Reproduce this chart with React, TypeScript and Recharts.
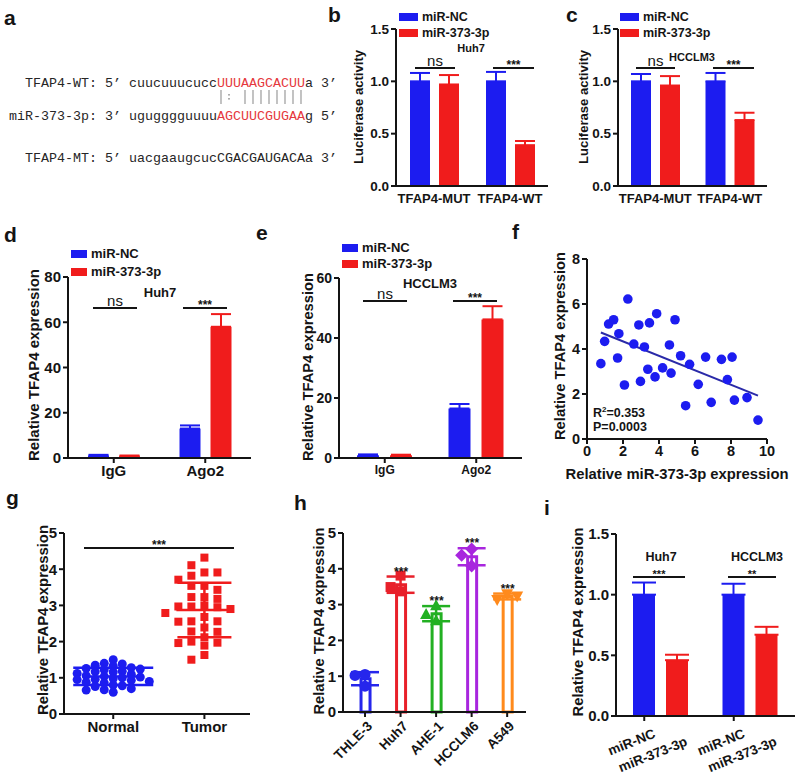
import React from "react"
import {
  BarChart,
  Bar,
  XAxis,
  YAxis,
  ErrorBar,
  ScatterChart,
  Scatter,
  ComposedChart,
  ReferenceLine,
  LabelList,
  Cell,
} from "recharts"

// ---- data ----
const lucGroups = ["TFAP4-MUT", "TFAP4-WT"]
const lucHuh7NC = [1.0, 1.0]
const lucHuh7NCSd = [0.08, 0.09]
const lucHuh7Mir = [0.97, 0.39]
const lucHuh7MirSd = [0.09, 0.04]
const lucLm3NC = [1.0, 1.0]
const lucLm3NCSd = [0.07, 0.08]
const lucLm3Mir = [0.96, 0.63]
const lucLm3MirSd = [0.09, 0.07]

const ripGroups = ["IgG", "Ago2"]
const ripHuh7NC = [1.0, 13.0]
const ripHuh7NCSd = [0.4, 1.4]
const ripHuh7Mir = [0.8, 58.0]
const ripHuh7MirSd = [0.3, 5.6]
const ripLm3NC = [0.9, 16.5]
const ripLm3NCSd = [0.3, 1.5]
const ripLm3Mir = [0.9, 46.2]
const ripLm3MirSd = [0.2, 4.4]

const corrMir = [
  0.77, 0.98, 1.2, 1.48, 1.7, 1.77, 2.08, 2.27, 2.6, 2.88, 2.97, 3.19, 3.38, 3.47, 3.78, 3.87,
  4.2, 4.58, 4.67, 4.89, 5.2, 5.48, 5.7, 6.18, 6.59, 6.9, 7.47, 7.8, 8.06, 8.19, 8.89, 9.5,
]
const corrTfap4 = [
  3.35, 4.34, 5.11, 5.3, 3.6, 4.68, 2.4, 6.22, 4.22, 5.07, 2.56, 4.09, 3.1, 5.16, 2.76, 5.57,
  3.16, 4.18, 2.93, 5.3, 3.7, 1.48, 3.32, 2.43, 3.64, 1.63, 3.54, 2.64, 3.64, 1.73, 1.84, 0.84,
]

const tissueNames = ["Normal", "Tumor"]
const normalTfap4 = [
  1.5, 1.4, 1.38, 1.35, 1.33, 1.28, 1.26, 1.24, 1.22, 1.18, 1.17, 1.16, 1.12, 1.1, 1.06, 1.04,
  1.02, 1.0, 0.98, 0.96, 0.95, 0.93, 0.9, 0.88, 0.86, 0.8, 0.78, 0.76, 0.7, 0.67, 0.66, 0.6,
]
const tumorTfap4 = [
  4.32, 4.11, 3.91, 3.91, 3.82, 3.71, 3.54, 3.54, 3.43, 3.23, 3.23, 3.18, 3.0, 2.97, 2.97, 2.95,
  2.9, 2.79, 2.68, 2.56, 2.56, 2.55, 2.39, 2.28, 2.27, 2.12, 2.0, 1.97, 1.96, 1.89, 1.63, 1.5,
]

const cellLines = ["THLE-3", "Huh7", "AHE-1", "HCCLM6", "A549"]
const cellReps = [
  [1.05, 1.02, 0.72],
  [3.81, 3.37, 3.49],
  [2.97, 2.55, 2.72],
  [4.55, 4.08, 4.38],
  [3.3, 3.14, 3.24],
]
const cellStars = ["", "***", "***", "***", "***"]

const rescueGroups = ["Huh7", "HCCLM3"]
const rescueNC = [1.0, 1.0]
const rescueNCSd = [0.1, 0.09]
const rescueMir = [0.46, 0.67]
const rescueMirSd = [0.045, 0.065]

// base pairing between the WT site and the miRNA, one symbol per seed position
const seedPairing = "|: ||||||||"

// ---- look ----
const FONT = "'Liberation Sans', Arial, Helvetica, sans-serif"
const MONO = "'Liberation Mono', 'DejaVu Sans Mono', monospace"
const BLUE = "#1c1cf0"
const RED = "#f01c1c"
const INK = "#141414"
const SEQ_RED = "#e5383d"
const CELL_COLORS = ["#2626ec", "#e8202a", "#22b022", "#a826de", "#ff8a1c"]
const SEQ_CELL = 8 // px per character in the sequence block

const axisLine = { stroke: INK, strokeWidth: 2 }
const tickLine = { stroke: INK, strokeWidth: 2 }
const tickFont = (size: number) => ({ fill: INK, fontSize: size, fontWeight: 700, fontFamily: FONT })

const avg = (a: number[]) => a.reduce((s, v) => s + v, 0) / a.length
const sdev = (a: number[]) => {
  const m = avg(a)
  return Math.sqrt(a.reduce((s, v) => s + (v - m) ** 2, 0) / (a.length - 1))
}

// spread points sideways so they don't sit on top of each other (prism-style column scatter)
function swarm(values: number[], pxPerY: number, pxPerX: number, stepPx: number, gapPx: number) {
  const placed: { y: number; slot: number }[] = []
  return values.map((v) => {
    const y = v * pxPerY
    for (let k = 0; k < 60; k++) {
      const slot = k === 0 ? 0 : k % 2 ? -Math.ceil(k / 2) : k / 2
      if (!placed.some((p) => p.slot === slot && Math.abs(p.y - y) < gapPx)) {
        placed.push({ y, slot })
        return (slot * stepPx) / pxPerX
      }
    }
    return 0
  })
}

// ---- b / c ----
function LucPanel({ left, width, yWidth, nc, ncSd, mir, mirSd }: any) {
  const data = lucGroups.map((g, i) => ({
    group: g,
    nc: nc[i],
    ncErr: [0, ncSd[i]],
    mir: mir[i],
    mirErr: [0, mirSd[i]],
  }))
  return (
    <div style={{ position: "absolute", left, top: 0 }}>
      <BarChart width={width} height={216} data={data} margin={{ top: 29, right: 8, bottom: 0, left: 0 }} barSize={20} barGap={9}>
        <XAxis dataKey="group" height={30} axisLine={axisLine} tickLine={false} tick={tickFont(13)} interval={0} />
        <YAxis
          width={yWidth}
          domain={[0, 1.5]}
          ticks={[0, 0.5, 1, 1.5]}
          tickFormatter={(v: number) => v.toFixed(1)}
          axisLine={axisLine}
          tickLine={tickLine}
          tickSize={5}
          tick={tickFont(13.5)}
        />
        <Bar dataKey="nc" fill={BLUE} isAnimationActive={false}>
          <ErrorBar dataKey="ncErr" width={10} stroke={BLUE} strokeWidth={2} direction="y" />
        </Bar>
        <Bar dataKey="mir" fill={RED} isAnimationActive={false}>
          <ErrorBar dataKey="mirErr" width={10} stroke={RED} strokeWidth={2} direction="y" />
        </Bar>
      </BarChart>
    </div>
  )
}

// ---- d / e ----
function RipPanel({ left, top, width, marginTop, right, yWidth, yMax, ticks, catSize, valSize, barSize, barGap, nc, ncSd, mir, mirSd }: any) {
  const data = ripGroups.map((g, i) => ({
    group: g,
    nc: nc[i],
    ncErr: [0, ncSd[i]],
    mir: mir[i],
    mirErr: [0, mirSd[i]],
  }))
  return (
    <div style={{ position: "absolute", left, top }}>
      <BarChart width={width} height={240} data={data} margin={{ top: marginTop, right, bottom: 0, left: 0 }} barSize={barSize} barGap={barGap}>
        <XAxis dataKey="group" height={32} axisLine={axisLine} tickLine={tickLine} tickSize={5} tick={tickFont(catSize)} interval={0} />
        <YAxis width={yWidth} domain={[0, yMax]} ticks={ticks} axisLine={axisLine} tickLine={tickLine} tickSize={5} tick={tickFont(valSize)} />
        <Bar dataKey="nc" fill={BLUE} isAnimationActive={false}>
          <ErrorBar dataKey="ncErr" width={10} stroke={BLUE} strokeWidth={2} direction="y" />
        </Bar>
        <Bar dataKey="mir" fill={RED} isAnimationActive={false}>
          <ErrorBar dataKey="mirErr" width={10} stroke={RED} strokeWidth={2} direction="y" />
        </Bar>
      </BarChart>
    </div>
  )
}

// ---- f ----
const corrData = corrMir.map((x, i) => ({ x, y: corrTfap4[i] }))
const fitLine = (() => {
  const mx = avg(corrMir)
  const my = avg(corrTfap4)
  let sxy = 0
  let sxx = 0
  corrMir.forEach((x, i) => {
    sxy += (x - mx) * (corrTfap4[i] - my)
    sxx += (x - mx) ** 2
  })
  const slope = sxy / sxx
  const x0 = Math.min(...corrMir)
  const x1 = Math.max(...corrMir)
  return [
    { x: x0, y: my + slope * (x0 - mx) },
    { x: x1, y: my + slope * (x1 - mx) },
  ]
})()

function CorrPanel() {
  return (
    <div style={{ position: "absolute", left: 530, top: 240 }}>
      <ScatterChart width={270} height={240} margin={{ top: 19, right: 33, bottom: 0, left: 0 }}>
        <XAxis type="number" dataKey="x" domain={[0, 10]} ticks={[0, 2, 4, 6, 8, 10]} height={41} axisLine={axisLine} tickLine={tickLine} tickSize={5} tick={tickFont(14.5)} />
        <YAxis type="number" dataKey="y" domain={[0, 8]} ticks={[0, 2, 4, 6, 8]} width={57} axisLine={axisLine} tickLine={tickLine} tickSize={5} tick={tickFont(14.5)} />
        <ReferenceLine segment={fitLine} stroke="#2a2aa8" strokeWidth={2} ifOverflow="visible" />
        <Scatter
          data={corrData}
          isAnimationActive={false}
          shape={(p: any) => <circle cx={p.cx} cy={p.cy} r={4.8} fill={BLUE} />}
        />
      </ScatterChart>
    </div>
  )
}

// ---- g ----
const G_PX_Y = 181 / 5
const G_PX_X = 91
const normalSpread = swarm(normalTfap4, G_PX_Y, G_PX_X, 9, 6)
const tumorSpread = swarm(tumorTfap4, G_PX_Y, G_PX_X, 13, 8)
const normalPts = normalTfap4.map((y, i) => ({ x: 1 + normalSpread[i], y }))
const tumorPts = tumorTfap4.map((y, i) => ({ x: 2 + tumorSpread[i], y }))
const normalSummary = [{ x: 1, y: avg(normalTfap4), sd: sdev(normalTfap4) }]
const tumorSummary = [{ x: 2, y: avg(tumorTfap4), sd: sdev(tumorTfap4) }]

const meanBar = (half: number, color: string) => (p: any) =>
  <line x1={p.cx - half} x2={p.cx + half} y1={p.cy} y2={p.cy} stroke={color} strokeWidth={2.5} />

function TissuePanel() {
  return (
    <div style={{ position: "absolute", left: 0, top: 510 }}>
      <ScatterChart width={260} height={250} margin={{ top: 23, right: 10, bottom: 0, left: 0 }}>
        <XAxis
          type="number"
          dataKey="x"
          domain={[0.46, 2.5]}
          ticks={[1, 2]}
          tickFormatter={(v: number) => tissueNames[v - 1]}
          height={46}
          axisLine={axisLine}
          tickLine={tickLine}
          tickSize={5}
          tick={tickFont(15)}
        />
        <YAxis type="number" dataKey="y" domain={[0, 5]} ticks={[0, 1, 2, 3, 4, 5]} width={64} axisLine={axisLine} tickLine={tickLine} tickSize={5} tick={tickFont(15)} />
        <Scatter data={normalPts} isAnimationActive={false} shape={(p: any) => <circle cx={p.cx} cy={p.cy} r={4.5} fill={BLUE} />} />
        <Scatter
          data={tumorPts}
          isAnimationActive={false}
          shape={(p: any) => <rect x={p.cx - 4} y={p.cy - 4} width={8} height={8} fill={RED} />}
        />
        <Scatter data={normalSummary} isAnimationActive={false} shape={meanBar(27, BLUE)}>
          <ErrorBar dataKey="sd" direction="y" width={40} stroke={BLUE} strokeWidth={2.5} />
        </Scatter>
        <Scatter data={tumorSummary} isAnimationActive={false} shape={meanBar(28, RED)}>
          <ErrorBar dataKey="sd" direction="y" width={27} stroke={RED} strokeWidth={2.5} />
        </Scatter>
      </ScatterChart>
    </div>
  )
}

// ---- h ----
const H_PX_Y = 179 / 5
const H_PX_X = 35.5
const cellData = cellLines.map((name, i) => ({
  x: i,
  name,
  mean: avg(cellReps[i]),
  sd: sdev(cellReps[i]),
  star: cellStars[i],
}))
const cellPts = cellReps.map((reps, i) => {
  const off = swarm(reps, H_PX_Y, H_PX_X, 10, 9)
  return reps.map((y, k) => ({ x: i + off[k], y }))
})

const cellMarker = (i: number) => (p: any) => {
  const { cx, cy } = p
  const c = CELL_COLORS[i]
  if (i === 0) return <circle cx={cx} cy={cy} r={5.5} fill={c} />
  if (i === 1) return <rect x={cx - 5} y={cy - 5} width={10} height={10} fill={c} />
  if (i === 2) return <polygon points={`${cx},${cy - 6.5} ${cx - 6},${cy + 4.5} ${cx + 6},${cy + 4.5}`} fill={c} />
  if (i === 3) return <polygon points={`${cx},${cy - 6.5} ${cx + 6.5},${cy} ${cx},${cy + 6.5} ${cx - 6.5},${cy}`} fill={c} />
  return <polygon points={`${cx - 6},${cy - 4.5} ${cx + 6},${cy - 4.5} ${cx},${cy + 6.5}`} fill={c} />
}

const renderCellStar = (p: any) => {
  const row = cellData[p.index] ?? cellData.find((r) => r.mean === p.value)
  if (!row || !row.star) return null
  const px = p.height / row.mean
  return (
    <text x={p.x + p.width / 2} y={p.y - row.sd * px - 1} textAnchor="middle" fontSize={12} fontWeight={700} fill={INK} fontFamily={FONT}>
      {row.star}
    </text>
  )
}

function CellTick({ x, y, payload }: any) {
  const ax = x + 8
  const ay = y + 8
  return (
    <text x={ax} y={ay} transform={`rotate(-45 ${ax} ${ay})`} textAnchor="end" fontSize={13.5} fontWeight={700} fill={INK} fontFamily={FONT}>
      {cellLines[payload.value]}
    </text>
  )
}

function CellPanel() {
  return (
    <div style={{ position: "absolute", left: 270, top: 510 }}>
      <ComposedChart width={260} height={265} data={cellData} margin={{ top: 23, right: 4, bottom: 0, left: 0 }}>
        <XAxis
          type="number"
          dataKey="x"
          domain={[-0.62, 4.53]}
          ticks={[0, 1, 2, 3, 4]}
          interval={0}
          height={63}
          axisLine={axisLine}
          tickLine={tickLine}
          tickSize={5}
          tick={<CellTick />}
        />
        <YAxis type="number" domain={[0, 5]} ticks={[0, 1, 2, 3, 4, 5]} width={73} axisLine={axisLine} tickLine={tickLine} tickSize={5} tick={tickFont(15)} />
        <Bar dataKey="mean" barSize={20} isAnimationActive={false}>
          {cellData.map((r, i) => (
            <Cell key={r.name} fill="#fff" stroke={CELL_COLORS[i]} strokeWidth={3} />
          ))}
          <LabelList dataKey="mean" content={renderCellStar} />
        </Bar>
        {cellData.map((r, i) => (
          <Scatter key={"sd" + r.name} data={[{ x: r.x, y: r.mean, sd: r.sd }]} dataKey="y" isAnimationActive={false} shape={() => <g />}>
            <ErrorBar dataKey="sd" direction="y" width={14} stroke={CELL_COLORS[i]} strokeWidth={2.5} />
          </Scatter>
        ))}
        {cellPts.map((pts, i) => (
          <Scatter key={"pts" + i} data={pts} dataKey="y" isAnimationActive={false} shape={cellMarker(i)} />
        ))}
      </ComposedChart>
    </div>
  )
}

// ---- i ----
function RescueTick({ x, y }: any) {
  const nc = x - 16.5
  const mr = x + 16.5
  const style = { fontSize: 13.5, fontWeight: 700, fill: INK, fontFamily: FONT }
  return (
    <g>
      <line x1={nc} x2={nc} y1={y - 7} y2={y - 2} stroke={INK} strokeWidth={2} />
      <text x={nc + 12} y={y + 14} transform={`rotate(-22 ${nc + 12} ${y + 14})`} textAnchor="end" {...style}>
        miR-NC
      </text>
      <text x={mr + 11} y={y + 22} transform={`rotate(-22 ${mr + 11} ${y + 22})`} textAnchor="end" {...style}>
        miR-373-3p
      </text>
    </g>
  )
}

function RescuePanel() {
  const data = rescueGroups.map((g, i) => ({
    group: g,
    nc: rescueNC[i],
    ncErr: [0, rescueNCSd[i]],
    mir: rescueMir[i],
    mirErr: [0, rescueMirSd[i]],
  }))
  return (
    <div style={{ position: "absolute", left: 540, top: 510 }}>
      <BarChart width={260} height={265} data={data} margin={{ top: 24, right: 5, bottom: 0, left: 0 }} barSize={22} barGap={11}>
        <XAxis dataKey="group" height={59} axisLine={axisLine} tickLine={false} tickSize={5} tick={<RescueTick />} interval={0} />
        <YAxis
          width={76}
          domain={[0, 1.5]}
          ticks={[0, 0.5, 1, 1.5]}
          tickFormatter={(v: number) => v.toFixed(1)}
          axisLine={axisLine}
          tickLine={tickLine}
          tickSize={5}
          tick={tickFont(15)}
        />
        <Bar dataKey="nc" fill={BLUE} isAnimationActive={false}>
          <ErrorBar dataKey="ncErr" width={12} stroke={BLUE} strokeWidth={2} direction="y" />
        </Bar>
        <Bar dataKey="mir" fill={RED} isAnimationActive={false}>
          <ErrorBar dataKey="mirErr" width={12} stroke={RED} strokeWidth={2} direction="y" />
        </Bar>
      </BarChart>
    </div>
  )
}

// ---- text, legends and brackets on top ----
function VTitle({ x, y, size = 15, len, children }: any) {
  return (
    <text
      transform={`translate(${x},${y}) rotate(-90)`}
      textAnchor="middle"
      dominantBaseline="central"
      fontSize={size}
      fontWeight={700}
      fill={INK}
      textLength={len}
      lengthAdjust="spacingAndGlyphs"
    >
      {children}
    </text>
  )
}

function Bracket({ x1, x2, y, label, ns, size = 12 }: any) {
  const cx = (x1 + x2) / 2
  return (
    <g>
      <line x1={x1} x2={x2} y1={y} y2={y} stroke={INK} strokeWidth={2.2} />
      {ns ? (
        <text x={cx} y={y - 2} textAnchor="middle" fontSize={15} fill={INK}>
          ns
        </text>
      ) : (
        <text x={cx} y={y + 1} textAnchor="middle" fontSize={size} fontWeight={700} fill={INK}>
          {label}
        </text>
      )}
    </g>
  )
}

function Legend2({ x, y, w, h, gap, size }: any) {
  return (
    <g fontSize={size} fontWeight={700} fill={INK}>
      <rect x={x} y={y} width={w} height={h} fill={BLUE} />
      <text x={x + w + 4} y={y + h}>miR-NC</text>
      <rect x={x} y={y + gap} width={w} height={h} fill={RED} />
      <text x={x + w + 4} y={y + gap + h}>miR-373-3p</text>
    </g>
  )
}

// one line of the alignment on an 8px-per-character grid
function SeqLine({ x, y, parts }: any) {
  return (
    <text x={x} y={y} fill="#262626" style={{ whiteSpace: "pre" }}>
      {parts.map((p: any, i: number) => (
        <tspan key={i} fill={p.c}>
          {p.t}
        </tspan>
      ))}
    </text>
  )
}

// pairing marks drawn as strokes under each seed position
function PairMarks({ x, top, bottom }: any) {
  return (
    <g stroke="#9a9a9a" strokeWidth={1.2}>
      {seedPairing.split("").map((ch, i) => {
        const cx = x + i * SEQ_CELL + SEQ_CELL / 2
        if (ch === "|") return <line key={i} x1={cx} x2={cx} y1={top} y2={bottom} />
        if (ch === ":")
          return (
            <g key={i} fill="#9a9a9a" stroke="none">
              <rect x={cx - 0.8} y={top + 4} width={1.6} height={1.6} />
              <rect x={cx - 0.8} y={bottom - 6} width={1.6} height={1.6} />
            </g>
          )
        return null
      })}
    </g>
  )
}

function Overlay() {
  return (
    <svg width={800} height={775} style={{ position: "absolute", left: 0, top: 0, pointerEvents: "none" }} fontFamily={FONT}>
      <g fontSize={21} fontWeight={700} fill={INK}>
        <text x={4} y={25}>a</text>
        <text x={328} y={22}>b</text>
        <text x={566} y={22}>c</text>
        <text x={4} y={242}>d</text>
        <text x={256} y={240}>e</text>
        <text x={512} y={239}>f</text>
        <text x={6} y={505}>g</text>
        <text x={294} y={510}>h</text>
        <text x={544} y={515}>i</text>
      </g>

      <g fontFamily={MONO} fontSize={13.33}>
        <SeqLine x={25} y={87} parts={[{ t: "TFAP4-WT: 5’ cuucuuucucc" }, { t: "UUUAAGCACUU", c: SEQ_RED }, { t: "a 3’" }]} />
        <SeqLine x={9} y={120} parts={[{ t: "miR-373-3p: 3’ ugugggguuuu" }, { t: "AGCUUCGUGAA", c: SEQ_RED }, { t: "g 5’" }]} />
        <SeqLine x={25} y={162} parts={[{ t: "TFAP4-MT: 5’ uacgaaugcucCGACGAUGACAa 3’" }]} />
      </g>
      <PairMarks x={25 + 24 * SEQ_CELL} top={90} bottom={104} />

      <Legend2 x={399} y={13} w={19} h={8} gap={16} size={12.5} />
      <Legend2 x={620} y={13} w={19} h={8} gap={16} size={12.5} />
      <Legend2 x={71} y={250} w={16} h={8} gap={18} size={13} />
      <Legend2 x={342} y={244} w={16} h={8} gap={16} size={13} />

      <VTitle x={358} y={107} size={13.5} len={114}>Luciferase activity</VTitle>
      <VTitle x={583} y={107} size={13.5} len={114}>Luciferase activity</VTitle>
      <VTitle x={33} y={365} len={192}>Relative TFAP4 expression</VTitle>
      <VTitle x={307} y={367} len={188}>Relative TFAP4 expression</VTitle>
      <VTitle x={559} y={346} len={188}>Relative TFAP4 expression</VTitle>
      <VTitle x={42} y={620} len={190}>Relative TFAP4 expression</VTitle>
      <VTitle x={318} y={621} len={187}>Relative TFAP4 expression</VTitle>
      <VTitle x={577} y={622} len={189}>Relative TFAP4 expression</VTitle>
      <text x={677} y={479} textAnchor="middle" fontSize={15} fontWeight={700} fill={INK} textLength={223} lengthAdjust="spacingAndGlyphs">
        Relative miR-373-3p expression
      </text>

      <g fontWeight={700} fill={INK} textAnchor="middle">
        <text x={471} y={52} fontSize={11}>Huh7</text>
        <text x={692} y={61} fontSize={11}>HCCLM3</text>
        <text x={160} y={297} fontSize={13}>Huh7</text>
        <text x={430} y={288} fontSize={13}>HCCLM3</text>
        <text x={661} y={561} fontSize={12.5}>Huh7</text>
        <text x={757} y={561} fontSize={12.5}>HCCLM3</text>
      </g>

      <Bracket x1={415} x2={455} y={68} ns />
      <Bracket x1={493} x2={534} y={68} label="***" />
      <Bracket x1={636} x2={675} y={68} ns />
      <Bracket x1={713} x2={754} y={68} label="***" />
      <Bracket x1={93} x2={137} y={308} ns />
      <Bracket x1={183} x2={227} y={308} label="***" />
      <Bracket x1={363} x2={407} y={301} ns />
      <Bracket x1={453} x2={497} y={301} label="***" />
      <Bracket x1={84} x2={234} y={548} label="***" />
      <Bracket x1={633} x2={685} y={577} label="***" size={11} />
      <Bracket x1={728} x2={776} y={577} label="**" size={11} />

      <g fontSize={12.5} fontWeight={700} fill={INK}>
        <text x={593} y={417}>
          R<tspan dy={-5} fontSize={8}>2</tspan>
          <tspan dy={5}>=0.353</tspan>
        </text>
        <text x={593} y={431}>P=0.0003</text>
      </g>
    </svg>
  )
}

export default function App() {
  return (
    <div style={{ position: "absolute", left: 0, top: 0, width: 800, height: 775, background: "#fff", overflow: "hidden", fontFamily: FONT }}>
      <LucPanel left={336} width={220} yWidth={60} nc={lucHuh7NC} ncSd={lucHuh7NCSd} mir={lucHuh7Mir} mirSd={lucHuh7MirSd} />
      <LucPanel left={560} width={215} yWidth={58} nc={lucLm3NC} ncSd={lucLm3NCSd} mir={lucLm3Mir} mirSd={lucLm3MirSd} />
      <RipPanel
        left={0}
        top={250}
        width={260}
        marginTop={27}
        right={9}
        yWidth={68}
        yMax={80}
        ticks={[0, 20, 40, 60, 80]}
        catSize={15}
        valSize={15}
        barSize={21}
        barGap={10}
        nc={ripHuh7NC}
        ncSd={ripHuh7NCSd}
        mir={ripHuh7Mir}
        mirSd={ripHuh7MirSd}
      />
      <RipPanel
        left={270}
        top={250}
        width={260}
        marginTop={28}
        right={8}
        yWidth={69}
        yMax={60}
        ticks={[0, 20, 40, 60]}
        catSize={12}
        valSize={14}
        barSize={22}
        barGap={11}
        nc={ripLm3NC}
        ncSd={ripLm3NCSd}
        mir={ripLm3Mir}
        mirSd={ripLm3MirSd}
      />
      <CorrPanel />
      <TissuePanel />
      <CellPanel />
      <RescuePanel />
      <Overlay />
    </div>
  )
}
